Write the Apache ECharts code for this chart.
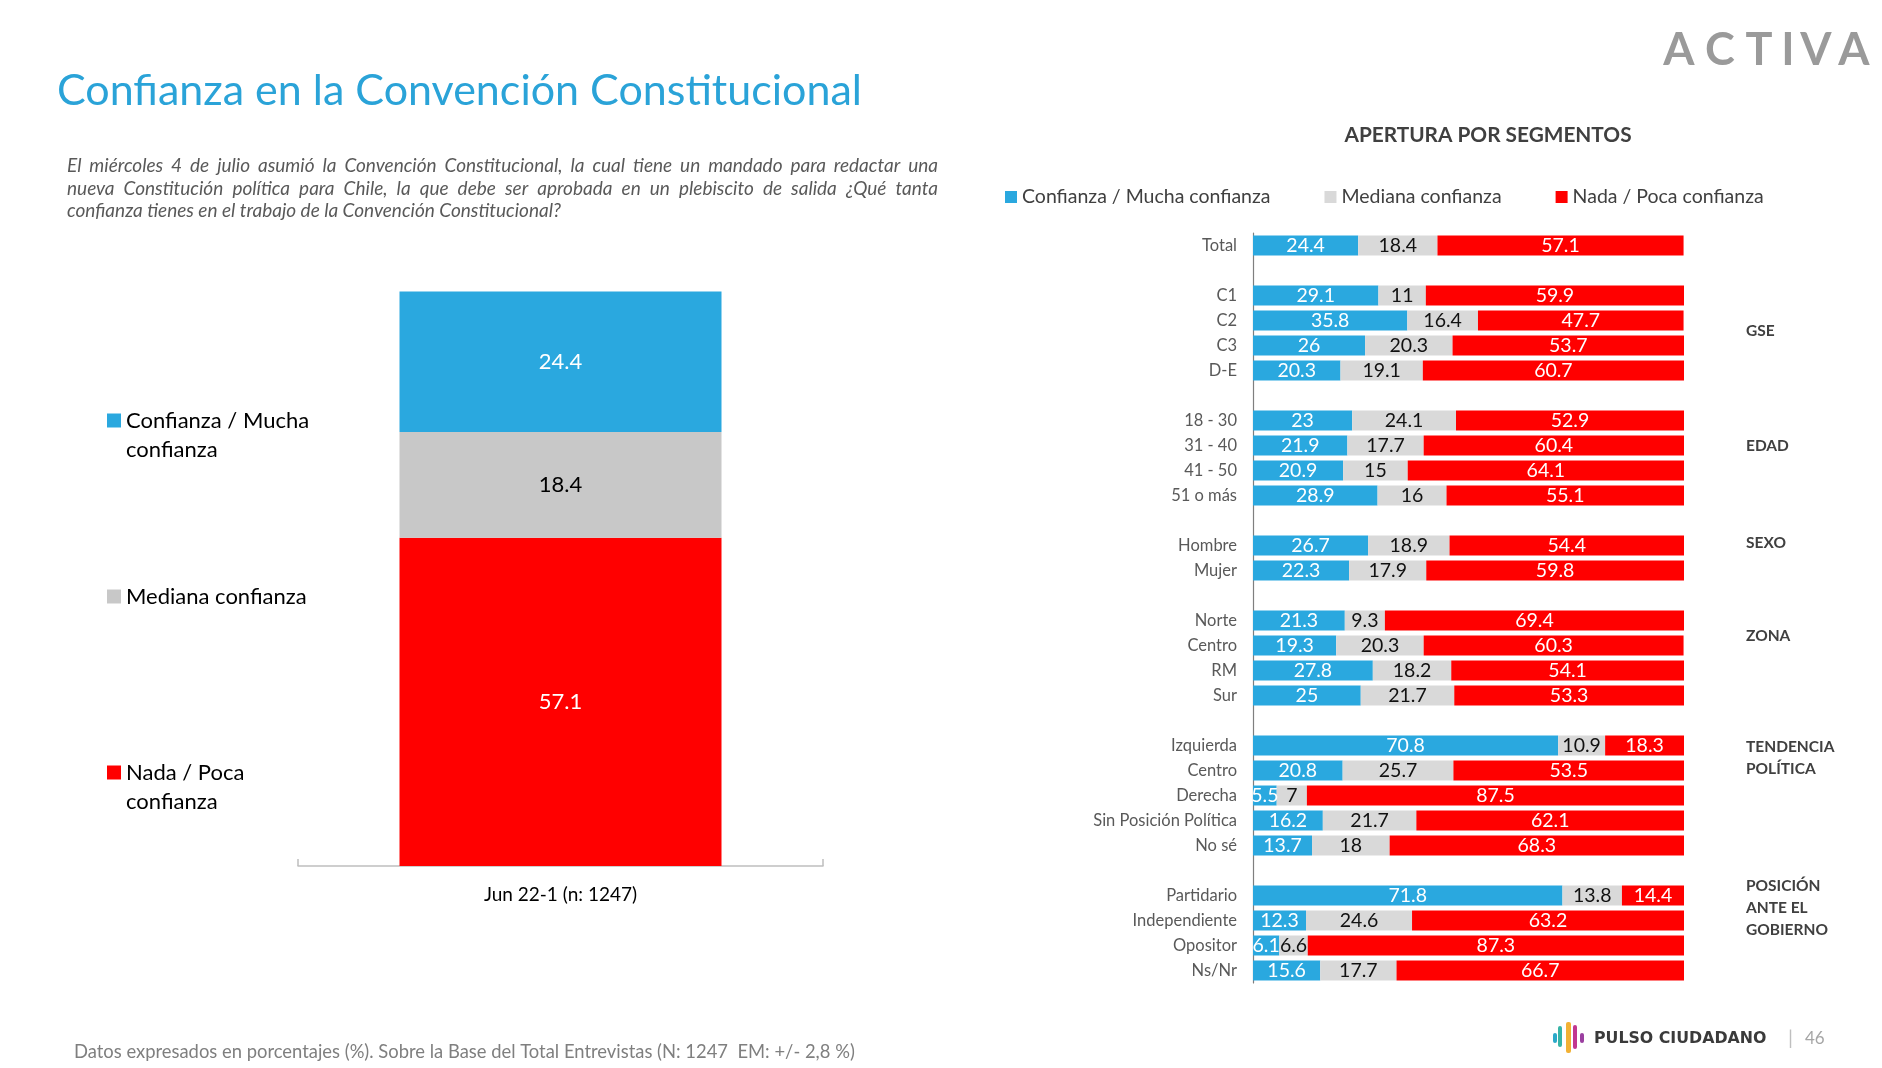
<!DOCTYPE html>
<html>
<head>
<meta charset="utf-8">
<title>Confianza en la Convención Constitucional</title>
<script src="https://cdn.jsdelivr.net/npm/echarts@6/dist/echarts.min.js"></script>
<style>
    html, body { margin: 0; padding: 0; background: #fff; }
    #chart { width: 1882px; height: 1068px; }
</style>
</head>
<body>
<div id="chart"></div>
<script>
// datos
const seriesNames = ['Confianza / Mucha confianza', 'Mediana confianza', 'Nada / Poca confianza'];
const totalCategory = ['Jun 22-1 (n: 1247)'];
const totalValues = [24.4, 18.4, 57.1];

const segments = ['Total', '', 'C1', 'C2', 'C3', 'D-E', '', '18 - 30', '31 - 40', '41 - 50', '51 o más', '',
    'Hombre', 'Mujer', '', 'Norte', 'Centro', 'RM', 'Sur', '',
    'Izquierda', 'Centro', 'Derecha', 'Sin Posición Política', 'No sé', '',
    'Partidario', 'Independiente', 'Opositor', 'Ns/Nr'];
const confianza = [24.4, null, 29.1, 35.8, 26, 20.3, null, 23, 21.9, 20.9, 28.9, null,
    26.7, 22.3, null, 21.3, 19.3, 27.8, 25, null,
    70.8, 20.8, 5.5, 16.2, 13.7, null,
    71.8, 12.3, 6.1, 15.6];
const mediana = [18.4, null, 11, 16.4, 20.3, 19.1, null, 24.1, 17.7, 15, 16, null,
    18.9, 17.9, null, 9.3, 20.3, 18.2, 21.7, null,
    10.9, 25.7, 7, 21.7, 18, null,
    13.8, 24.6, 6.6, 17.7];
const nada = [57.1, null, 59.9, 47.7, 53.7, 60.7, null, 52.9, 60.4, 64.1, 55.1, null,
    54.4, 59.8, null, 69.4, 60.3, 54.1, 53.3, null,
    18.3, 53.5, 87.5, 62.1, 68.3, null,
    14.4, 63.2, 87.3, 66.7];

const groupLabels = ['GSE', 'EDAD', 'SEXO', 'ZONA', 'TENDENCIA\nPOLÍTICA', 'POSICIÓN\nANTE EL\nGOBIERNO'];
const groupAnchor = [3.4, 8, 11.9, 15.6, 20.5, 26.5]; // posición en filas

const question = [
    'El miércoles 4 de julio asumió la Convención Constitucional, la cual tiene un mandado para redactar una',
    'nueva Constitución política para Chile, la que debe ser aprobada en un plebiscito de salida ¿Qué tanta',
    'confianza tienes en el trabajo de la Convención Constitucional?'
];

// estilos
const FONT = 'Lato';
const BLUE = '#2AA8DF';
const GRAY_L = '#C8C8C8';
const GRAY_R = '#D9D9D9';
const RED = '#FF0000';
const leftColors = [BLUE, GRAY_L, RED];
const rightColors = [BLUE, GRAY_R, RED];

const right = { left: 1253, top: 233, width: 431, height: 750 };
const rowH = right.height / segments.length;

const chart = echarts.init(document.getElementById('chart'));

// texto justificado de la pregunta
const measureCtx = document.createElement('canvas').getContext('2d');
function questionLines() {
    const els = [];
    const x0 = 67, w = 871, size = 19;
    measureCtx.font = 'italic ' + size + 'px ' + FONT;
    question.forEach((line, li) => {
        const y = 166 + li * 22.5;
        const base = { fontFamily: FONT, fontStyle: 'italic', fontSize: size, fill: '#595959', verticalAlign: 'middle' };
        if (li === question.length - 1) {
            els.push({ type: 'text', x: x0, y: y, style: Object.assign({ text: line }, base) });
            return;
        }
        const words = line.split(' ');
        const widths = words.map(t => measureCtx.measureText(t).width);
        const gap = (w - widths.reduce((a, b) => a + b, 0)) / (words.length - 1);
        let cx = x0;
        words.forEach((t, i) => {
            els.push({ type: 'text', x: cx, y: y, style: Object.assign({ text: t }, base) });
            cx += widths[i] + gap;
        });
    });
    return els;
}

function groupTexts() {
    return groupLabels.map((t, i) => ({
        type: 'text',
        x: 1746,
        y: right.top + (groupAnchor[i] + 0.5) * rowH,
        style: {
            text: t, fontFamily: FONT, fontWeight: 'bold', fontSize: 15.5, fill: '#404040',
            lineHeight: 22, verticalAlign: 'middle'
        }
    }));
}

function activaLogo() {
    const letters = 'ACTIVA'.split('');
    const xs = [1679, 1720, 1759, 1788, 1816, 1854];
    return letters.map((c, i) => ({
        type: 'text', x: xs[i], y: 50,
        style: { text: c, fontFamily: FONT, fontWeight: 'bold', fontSize: 45, fill: '#9A9A9A', align: 'center', verticalAlign: 'middle' }
    }));
}

function pulsoLogo() {
    const bars = [
        [1553, 1033, 4, 10, '#2AA9C9'],
        [1558, 1026, 4, 21, '#37B4A6'],
        [1566, 1022, 5, 31, '#F2B134'],
        [1573, 1025, 4, 24, '#C2378F'],
        [1580, 1033, 4, 10, '#9B3FA0']
    ];
    const els = bars.map(b => ({
        type: 'rect', shape: { x: b[0], y: b[1], width: b[2], height: b[3], r: 2 }, style: { fill: b[4] }
    }));
    els.push({ type: 'text', x: 1594, y: 1039,
        style: { text: 'PULSO CIUDADANO', fontFamily: 'DejaVu Sans', fontWeight: 'bold', fontSize: 15.8, fill: '#3A3A3A', verticalAlign: 'middle' } });
    els.push({ type: 'text', x: 1788, y: 1039,
        style: { text: '|', fontFamily: FONT, fontSize: 20, fill: '#BFBFBF', verticalAlign: 'middle' } });
    els.push({ type: 'text', x: 1805, y: 1039,
        style: { text: '46', fontFamily: FONT, fontSize: 17, fill: '#A6A6A6', verticalAlign: 'middle' } });
    return els;
}

// en dos líneas, con una línea vacía arriba para que el cuadro quede junto a la primera
function splitName(name) {
    return name === seriesNames[1] ? name : '\n' + name.replace(/ (confianza)$/, '\n$1');
}
function leftLegend(idx, top) {
    return {
        left: 107, top: top, orient: 'vertical', padding: 0, icon: 'rect',
        itemWidth: 14, itemHeight: 14, selectedMode: false,
        data: [{ name: seriesNames[idx], itemStyle: { color: leftColors[idx] } }],
        formatter: splitName,
        textStyle: { fontFamily: FONT, fontSize: 22, color: '#000', lineHeight: 29 }
    };
}

const option = {
    backgroundColor: '#fff',
    animation: false,
    legend: [
        leftLegend(0, 377),
        leftLegend(1, 582),
        leftLegend(2, 729),
        {
            left: 1005, top: 186, padding: 0, icon: 'rect', itemWidth: 12, itemHeight: 12, itemGap: 54,
            selectedMode: false,
            data: seriesNames.map((n, i) => ({ name: n, itemStyle: { color: rightColors[i] } })),
            textStyle: { fontFamily: FONT, fontSize: 19.5, color: '#404040', lineHeight: 22 }
        }
    ],
    grid: [
        { left: 298, top: 291, width: 525, height: 575 },
        right
    ],
    xAxis: [
        {
            gridIndex: 0, type: 'category', data: totalCategory,
            axisLine: { lineStyle: { color: '#BFBFBF', width: 1.5 } },
            axisTick: { show: true, inside: true, length: 7, lineStyle: { color: '#BFBFBF', width: 1.5 } },
            axisLabel: { color: '#000', fontFamily: FONT, fontSize: 19, margin: 19 }
        },
        { gridIndex: 1, type: 'value', min: 0, max: 100, show: false }
    ],
    yAxis: [
        { gridIndex: 0, type: 'value', min: 0, max: 100, show: false },
        {
            gridIndex: 1, type: 'category', data: segments, inverse: true,
            axisLine: { lineStyle: { color: '#7F7F7F', width: 1.2 } },
            axisTick: { show: false },
            axisLabel: { interval: 0, color: '#595959', fontFamily: FONT, fontSize: 16.5, margin: 16 }
        }
    ],
    series: [
        // columna total: se apila de abajo hacia arriba (rojo, gris, azul)
        ...[2, 1, 0].map(i => ({
            name: seriesNames[i], type: 'bar', stack: 'total', xAxisIndex: 0, yAxisIndex: 0,
            barWidth: 322,
            data: [totalValues[i]],
            itemStyle: { color: leftColors[i] },
            label: {
                show: true, position: 'inside', fontFamily: FONT, fontSize: 22,
                color: i === 1 ? '#000' : '#fff'
            }
        })),
        // apertura por segmentos
        ...[confianza, mediana, nada].map((vals, i) => ({
            name: seriesNames[i], type: 'bar', stack: 'seg', xAxisIndex: 1, yAxisIndex: 1,
            barWidth: 20,
            data: vals,
            itemStyle: { color: rightColors[i] },
            label: {
                show: true, position: 'inside', fontFamily: FONT, fontSize: 19.5,
                color: i === 1 ? '#111' : '#fff'
            }
        }))
    ],
    graphic: [
        { type: 'text', x: 57, y: 91,
          style: { text: 'Confianza en la Convención Constitucional', fontFamily: FONT, fontSize: 43, fill: '#2AA3D8', verticalAlign: 'middle' } },
        ...questionLines(),
        { type: 'text', x: 1488, y: 135,
          style: { text: 'APERTURA POR SEGMENTOS', fontFamily: FONT, fontWeight: 'bold', fontSize: 20.8, fill: '#404040', align: 'center', verticalAlign: 'middle' } },
        ...groupTexts(),
        { type: 'text', x: 74, y: 1052,
          style: { text: 'Datos expresados en porcentajes (%). Sobre la Base del Total Entrevistas (N: 1247  EM: +/- 2,8 %)', fontFamily: FONT, fontSize: 18.4, fill: '#7F7F7F', verticalAlign: 'middle' } },
        ...activaLogo(),
        ...pulsoLogo()
    ]
};

chart.setOption(option);
</script>
</body>
</html>
